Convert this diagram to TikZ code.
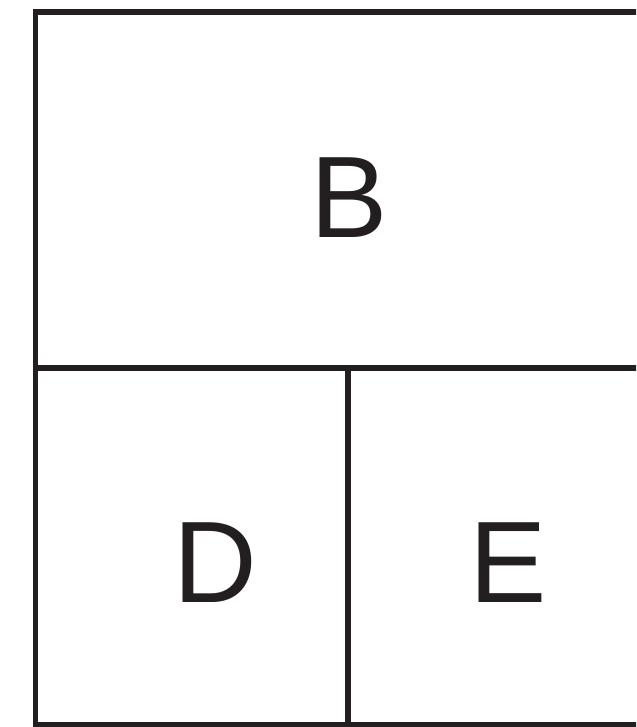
\documentclass[tikz,border=0pt]{standalone}
\usepackage{fontspec}
\setmainfont{Liberation Sans}
\definecolor{ink}{HTML}{231F20}
\begin{document}
\begin{tikzpicture}[x=0.02cm,y=-0.02cm,
  wall/.style={draw=ink,line width=0.12cm},
  letter/.style={font=\fontsize{66}{66}\selectfont,text=ink,inner sep=0pt,anchor=base}]
\useasboundingbox (0,0) rectangle (636,727);
\clip (0,0) rectangle (636,727);
\draw[wall] (660,12) -- (35.5,12) -- (35.5,725) -- (660,725); % outer frame, open to the right
\draw[wall] (35.5,368) -- (660,368);                          % B above, D and E below
\draw[wall] (348,368) -- (348,725);                           % D | E
\node[letter] (B) at (349.5,237) {B};
\node[letter] (D) at (215,602) {D};
\node[letter] (E) at (508,602) {E};
\end{tikzpicture}
\end{document}
